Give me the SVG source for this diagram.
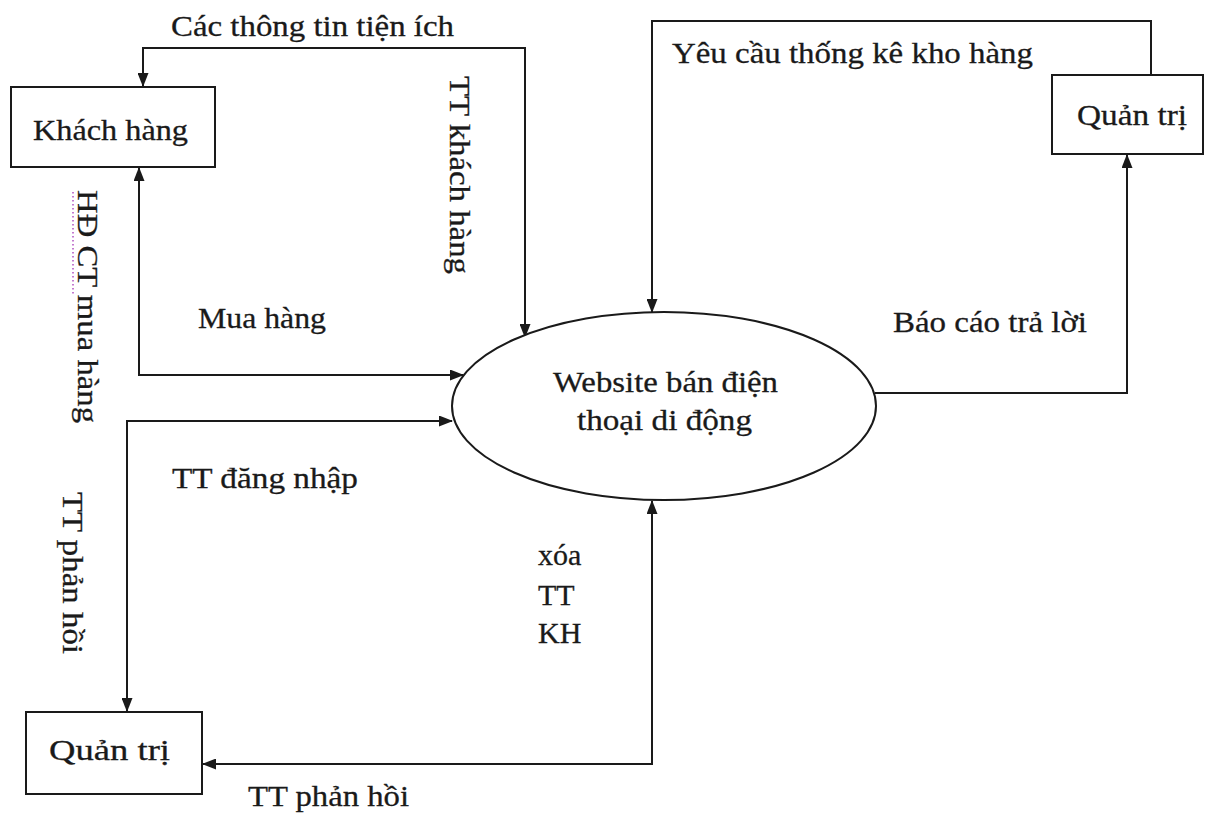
<svg xmlns="http://www.w3.org/2000/svg" width="1212" height="814" viewBox="0 0 1212 814">
<style>
  text { font-family: "Liberation Serif", "Times New Roman", serif; font-size: 30px; fill: #1a1a1a; stroke: #1a1a1a; stroke-width: 0.3; }
  .box { fill: #ffffff; stroke: #1a1a1a; stroke-width: 2; }
  .conn { fill: none; stroke: #1a1a1a; stroke-width: 2; }
</style>
<defs>
  <marker id="arr" viewBox="0 0 14 11" refX="13" refY="5.5" markerWidth="14" markerHeight="11" markerUnits="userSpaceOnUse" orient="auto-start-reverse">
    <path d="M0,0 L14,5.5 L0,11 Z" fill="#1a1a1a"/>
  </marker>
</defs>
<rect width="1212" height="814" fill="#ffffff"/>

<g id="connectors">
  <!-- Các thông tin tiện ích / TT khách hàng -->
  <path class="conn" d="M525,337 L525,48 L143,48 L143,86" marker-start="url(#arr)" marker-end="url(#arr)"/>
  <!-- Yêu cầu thống kê kho hàng -->
  <path class="conn" d="M1151,75 L1151,21 L652,21 L652,312" marker-end="url(#arr)"/>
  <!-- Báo cáo trả lời -->
  <path class="conn" d="M875,393 L1127,393 L1127,155" marker-end="url(#arr)"/>
  <!-- Mua hàng / HĐ CT mua hàng -->
  <path class="conn" d="M139,168 L139,375 L463,375" marker-start="url(#arr)" marker-end="url(#arr)"/>
  <!-- TT đăng nhập / TT phản hồi -->
  <path class="conn" d="M127,711 L127,421 L452,421" marker-start="url(#arr)" marker-end="url(#arr)"/>
  <!-- xóa TT KH / TT phản hồi -->
  <path class="conn" d="M652,501 L652,764 L203,764" marker-start="url(#arr)" marker-end="url(#arr)"/>
</g>

<g id="node-khachhang">
  <rect class="box" x="11" y="87" width="204" height="80"/>
  <text x="33" y="140" textLength="155" lengthAdjust="spacingAndGlyphs">Khách hàng</text>
</g>

<g id="node-quantri-right">
  <rect class="box" x="1052" y="75" width="151" height="79"/>
  <text x="1077" y="125" textLength="110" lengthAdjust="spacingAndGlyphs">Quản trị</text>
</g>

<g id="node-website">
  <ellipse class="box" cx="664" cy="406" rx="212" ry="94"/>
  <text x="553" y="392" textLength="225" lengthAdjust="spacingAndGlyphs">Website bán điện</text>
  <text x="577" y="430" textLength="175" lengthAdjust="spacingAndGlyphs">thoại di động</text>
</g>

<g id="node-quantri-bottom">
  <rect class="box" x="26" y="712" width="176" height="82"/>
  <text x="49" y="760" textLength="121" lengthAdjust="spacingAndGlyphs">Quản trị</text>
</g>

<g id="labels">
  <text x="171" y="36" textLength="283" lengthAdjust="spacingAndGlyphs">Các thông tin tiện ích</text>
  <text x="672" y="63" textLength="361" lengthAdjust="spacingAndGlyphs">Yêu cầu thống kê kho hàng</text>
  <text transform="translate(450,76) rotate(90)" x="0" y="0" textLength="198" lengthAdjust="spacingAndGlyphs">TT khách hàng</text>
  <line x1="73" y1="192" x2="73" y2="296" stroke="#b04fc0" stroke-width="1.5" stroke-dasharray="1.5,2.5"/>
  <text transform="translate(78,190) rotate(90)" x="0" y="0" textLength="233" lengthAdjust="spacingAndGlyphs">HĐ CT mua hàng</text>
  <text x="198" y="328" textLength="128" lengthAdjust="spacingAndGlyphs">Mua hàng</text>
  <text x="893" y="332" textLength="194" lengthAdjust="spacingAndGlyphs">Báo cáo trả lời</text>
  <text x="172" y="488" textLength="186" lengthAdjust="spacingAndGlyphs">TT đăng nhập</text>
  <text transform="translate(63,492) rotate(90)" x="0" y="0" textLength="162" lengthAdjust="spacingAndGlyphs">TT phản hồi</text>
  <text x="538" y="565">xóa</text>
  <text x="538" y="605">TT</text>
  <text x="538" y="643">KH</text>
  <text x="248" y="806" textLength="161" lengthAdjust="spacingAndGlyphs">TT phản hồi</text>
</g>
</svg>
